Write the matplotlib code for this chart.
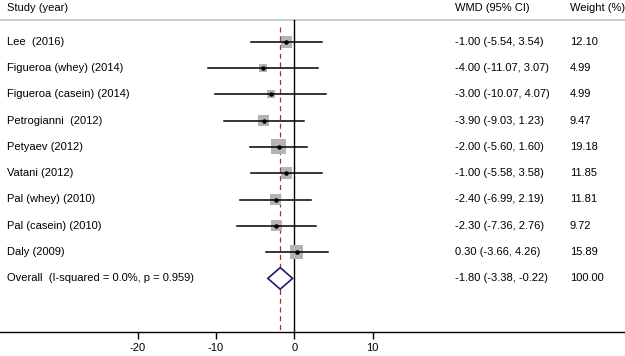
import matplotlib
matplotlib.use("Agg")
import matplotlib.pyplot as plt
from matplotlib.patches import Polygon
import numpy as np

plt.rcParams['font.family'] = ['Liberation Sans', 'DejaVu Sans']

studies = ["Lee  (2016)", "Figueroa (whey) (2014)", "Figueroa (casein) (2014)",
           "Petrogianni  (2012)", "Petyaev (2012)", "Vatani (2012)",
           "Pal (whey) (2010)", "Pal (casein) (2010)", "Daly (2009)"]
wmd = [-1.00, -4.00, -3.00, -3.90, -2.00, -1.00, -2.40, -2.30, 0.30]
lo = [-5.54, -11.07, -10.07, -9.03, -5.60, -5.58, -6.99, -7.36, -3.66]
hi = [3.54, 3.07, 4.07, 1.23, 1.60, 3.58, 2.19, 2.76, 4.26]
weights = [12.10, 4.99, 4.99, 9.47, 19.18, 11.85, 11.81, 9.72, 15.89]
overall_label = "Overall  (I-squared = 0.0%, p = 0.959)"
overall = -1.80
overall_lo = -3.38
overall_hi = -0.22
overall_weight = 100.00
xticks = [-20, -10, 0, 10]

W, H = 625, 356
fig = plt.figure(figsize=(W / 100, H / 100), dpi=100)
axis_y = 332.0
ax = fig.add_axes([0, 1 - axis_y / H, 1, axis_y / H])

scale = 7.83  # px per unit
x0px = 294.3
ax.set_xlim(-x0px / scale, (W - x0px) / scale)
ax.set_ylim(axis_y, 0)

def px2x(p):
    return (p - x0px) / scale

for s in ['top', 'left', 'right']:
    ax.spines[s].set_visible(False)
ax.spines['bottom'].set_linewidth(1.0)
ax.spines['bottom'].set_color('black')
ax.set_yticks([])
ax.set_xticks(xticks)
ax.set_xticklabels([str(t) for t in xticks])
ax.tick_params(axis='x', direction='out', length=5, width=1.0, labelsize=8, pad=3)

fs = 8
row0, step = 41.7, 26.3
ys = [row0 + step * i for i in range(len(studies))]
y_over = row0 + step * len(studies)

# header
ax.text(px2x(7), 8, "Study (year)", fontsize=fs, va='center', ha='left')
ax.text(px2x(455), 8, "WMD (95% CI)", fontsize=fs, va='center', ha='left')
ax.text(px2x(570), 8, "Weight (%)", fontsize=fs, va='center', ha='left')
ax.plot(ax.get_xlim(), [20, 20], color='#c8c8c8', lw=1.3, clip_on=False)

# reference lines
ax.plot([0, 0], [20, axis_y], color='black', lw=1.0)
ax.plot([overall, overall], [27, axis_y], color='#a0303a', lw=0.9,
        linestyle=(0, (4, 3)))

k = 0.72 * 3.43
for y, name, m, l, h, w in zip(ys, studies, wmd, lo, hi, weights):
    ax.plot([l, h], [y, y], color='black', lw=1.1, zorder=3)
    ax.scatter([m], [y], marker='s', s=(k ** 2) * w, color='#b4b4b4',
               edgecolors='none', zorder=2)
    ax.scatter([m], [y], marker='o', s=5, color='black', zorder=4)
    ax.text(px2x(7), y, name, fontsize=fs, va='center', ha='left')
    ax.text(px2x(455), y, f"{m:.2f} ({l:.2f}, {h:.2f})", fontsize=fs,
            va='center', ha='left')
    ax.text(px2x(570), y, f"{w:.2f}", fontsize=fs, va='center', ha='left')

hh = 10.8
diamond = Polygon([[overall_lo, y_over], [overall, y_over - hh],
                   [overall_hi, y_over], [overall, y_over + hh]],
                  closed=True, facecolor='white', edgecolor='#1c1c6c', lw=1.2,
                  zorder=5)
ax.add_patch(diamond)
ax.text(px2x(7), y_over, overall_label, fontsize=fs, va='center', ha='left')
ax.text(px2x(455), y_over, f"{overall:.2f} ({overall_lo:.2f}, {overall_hi:.2f})",
        fontsize=fs, va='center', ha='left')
ax.text(px2x(570), y_over, f"{overall_weight:.2f}", fontsize=fs, va='center', ha='left')

fig.savefig("out.png", dpi=100)
